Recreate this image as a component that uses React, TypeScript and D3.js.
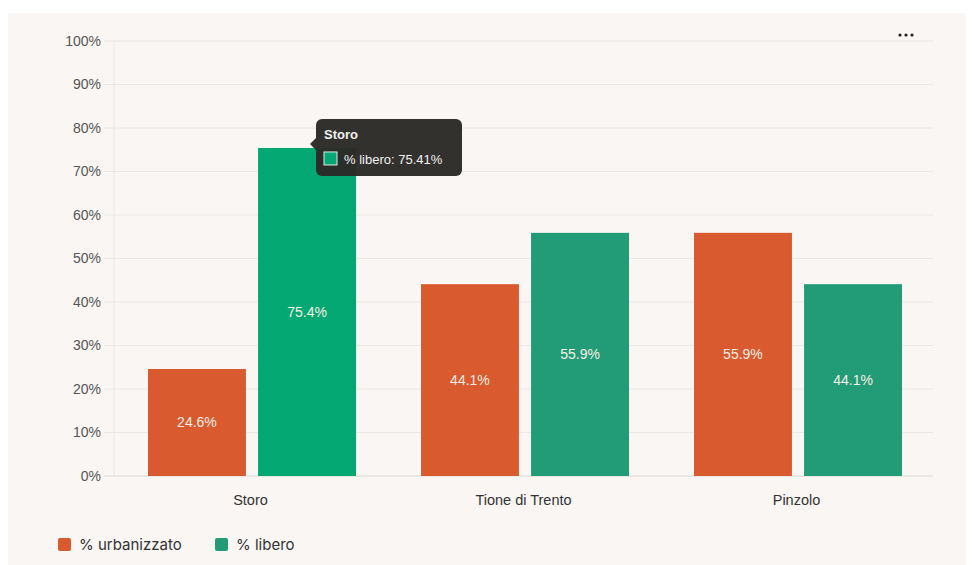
import React from "react";
import * as d3 from "d3";

const categories = ["Storo", "Tione di Trento", "Pinzolo"];
const seriesNames = ["% urbanizzato", "% libero"];
const urbanizzato = [24.6, 44.1, 55.9];
const libero = [75.41, 55.9, 44.1];
const yTicks = [0, 10, 20, 30, 40, 50, 60, 70, 80, 90, 100];
const colors = ["#d95a2e", "#219c77"];
const hoverColor = "#03a872";
const tooltipTitle = "Storo";
const tooltipText = "% libero: 75.41%";

const W = 974;
const H = 565;
const M = { left: 114, right: 933, top: 41, bottom: 476 };

export default function App() {
  const x0 = d3.scaleBand().domain(categories).range([M.left, M.right]).paddingInner(0).paddingOuter(0);
  const x1 = d3.scaleBand().domain(seriesNames).range([34, x0.bandwidth() - 31]).paddingInner(0.11);
  const y = d3.scaleLinear().domain([0, 100]).range([M.bottom, M.top]);
  const series = [urbanizzato, libero];
  const font = "'Liberation Sans', Arial, sans-serif";

  const storoX = x0("Storo")! + x1("% libero")!;
  const storoTop = y(libero[0]);
  const tipX = storoX + x1.bandwidth() - 40;
  const tipY = storoTop - 29;

  return (
    <svg width={W} height={H} style={{ position: "absolute", left: 0, top: 0 }} fontFamily={font}>
      <rect x={0} y={0} width={W} height={H} fill="#ffffff" />
      <rect x={8} y={13} width={958} height={H - 13} fill="#f9f6f3" />
      {yTicks.map((t) => (
        <g key={t}>
          <line x1={M.left - 10} x2={M.right} y1={y(t)} y2={y(t)} stroke={t === 0 ? "#dcd8d4" : "#ece8e4"} strokeWidth={1} />
          <text x={101} y={y(t)} dy="0.35em" textAnchor="end" fontSize={14} fill="#555">{t}%</text>
        </g>
      ))}
      <line x1={M.left} x2={M.left} y1={M.top} y2={M.bottom} stroke="#ece8e4" />
      {categories.map((c, i) => (
        <g key={c}>
          {series.map((s, j) => {
            const bx = x0(c)! + x1(seriesNames[j])!;
            const by = y(s[i]);
            const hovered = i === 0 && j === 1;
            return (
              <g key={j}>
                <rect x={bx} y={by} width={x1.bandwidth()} height={y(0) - by} fill={hovered ? hoverColor : colors[j]} />
                <text x={bx + x1.bandwidth() / 2} y={(by + y(0)) / 2} dy="0.35em" textAnchor="middle" fontSize={14} fill="#fbeee6">
                  {s[i].toFixed(1)}%
                </text>
              </g>
            );
          })}
          <text x={x0(c)! + x0.bandwidth() / 2} y={500} dy="0.35em" textAnchor="middle" fontSize={14.5} fill="#333">{c}</text>
        </g>
      ))}
      {/* tooltip */}
      <g>
        <path d={`M${tipX} ${tipY + 19} L${tipX - 6} ${tipY + 25} L${tipX} ${tipY + 31} Z`} fill="#2b2a27" fillOpacity={0.97} />
        <rect x={tipX} y={tipY} width={146} height={57} rx={6} fill="#2b2a27" fillOpacity={0.97} />
        <text x={tipX + 8} y={tipY + 15} dy="0.35em" fontSize={13} fontWeight="bold" fill="#f2f2f2">{tooltipTitle}</text>
        <rect x={tipX + 8} y={tipY + 33} width={13} height={13} fill={hoverColor} stroke="#e8e8e8" strokeWidth={1} />
        <text x={tipX + 28} y={tipY + 40} dy="0.35em" fontSize={13} fill="#f2f2f2">{tooltipText}</text>
      </g>
      {/* menu dots */}
      {[0, 1, 2].map((k) => (
        <circle key={k} cx={900 + k * 6} cy={35} r={1.6} fill="#222" />
      ))}
      {/* legend */}
      {seriesNames.map((n, j) => {
        const lx = j === 0 ? 58 : 215;
        return (
          <g key={n}>
            <rect x={lx} y={538} width={13} height={13} rx={2} fill={colors[j]} />
            <text x={lx + 21} y={545} dy="0.35em" fontSize={15} fill="#333" fontFamily="Inter, 'Noto Sans', sans-serif">{n}</text>
          </g>
        );
      })}
    </svg>
  );
}
